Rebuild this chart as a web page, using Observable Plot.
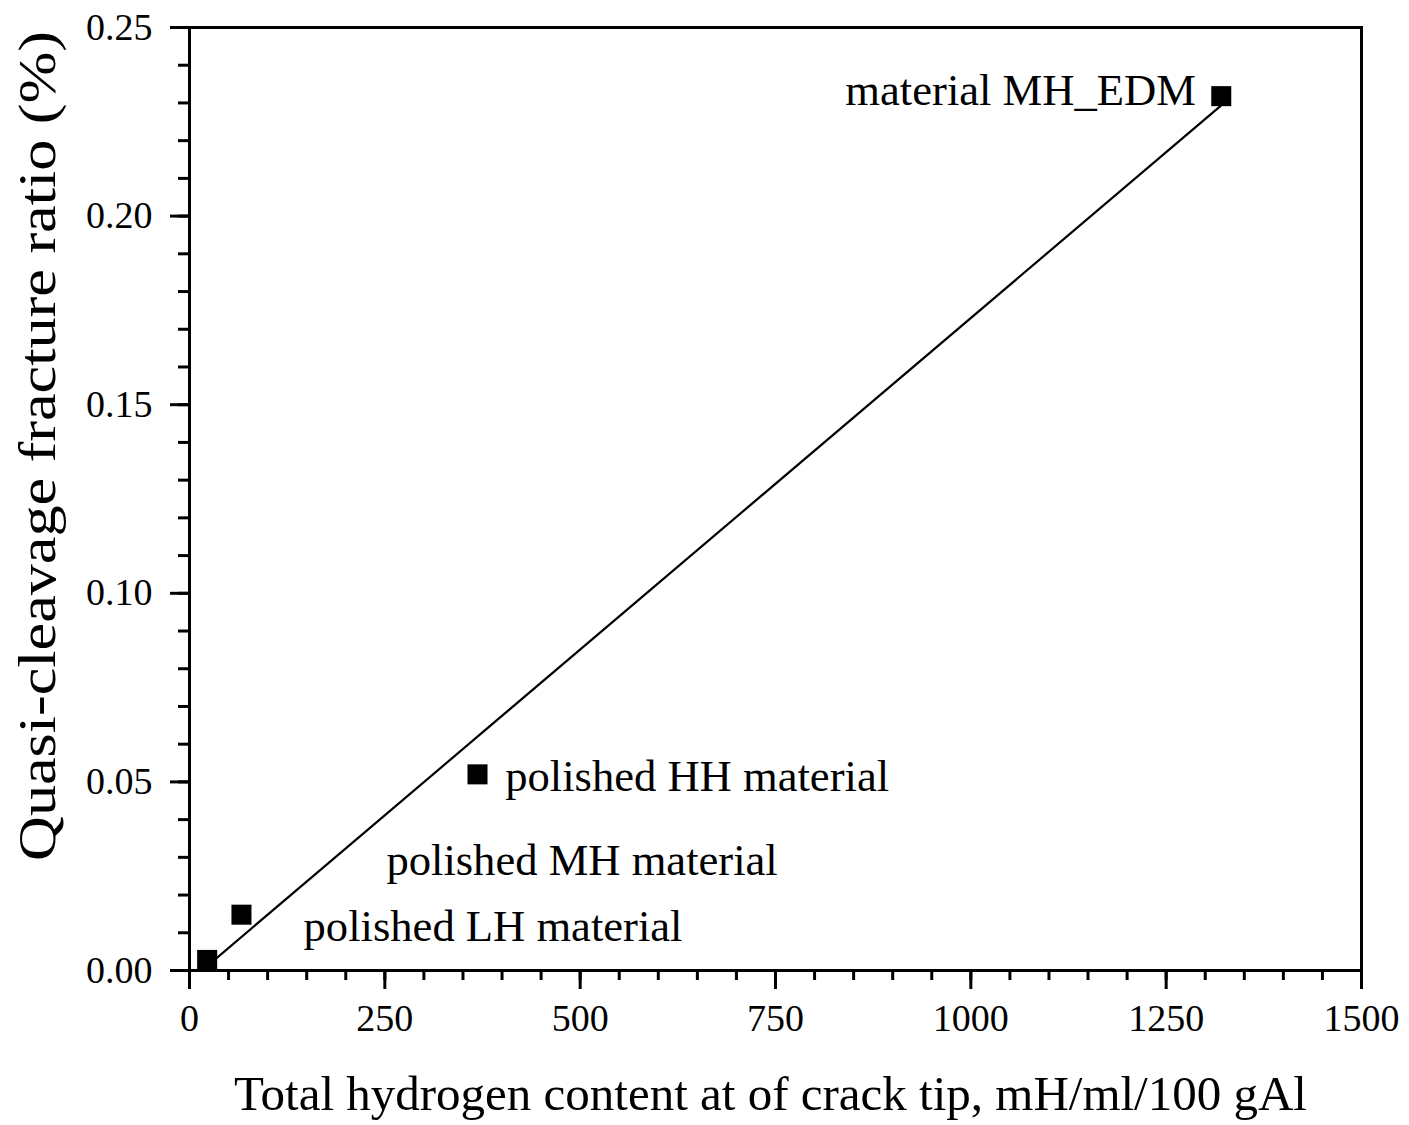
<!DOCTYPE html>
<html>
<head>
<meta charset="utf-8">
<script src="https://cdn.jsdelivr.net/npm/d3@7"></script>
<script src="https://cdn.jsdelivr.net/npm/@observablehq/plot@0.6"></script>
<style>
  html, body { margin: 0; padding: 0; background: #fff; }
  #chart svg { display: block; }
</style>
</head>
<body>
<div id="chart"></div>
<script>
// Measured samples: total hydrogen at the crack tip vs quasi-cleavage fracture ratio
const hydrogen = [22.6, 66.5, 368.6, 1320.5];
const qcRatio = [0.0028, 0.0148, 0.052, 0.2318];

// Annotation text and their anchor points in data units
const noteText = ["material MH_EDM", "polished HH material", "polished MH material", "polished LH material"];
const noteX = [1288, 404, 252, 146];
const noteY = [0.2333, 0.0515, 0.0292, 0.0117];
const noteAnchor = ["end", "start", "start", "start"];

// Axis ticks
const xMajor = [0, 250, 500, 750, 1000, 1250, 1500];
const xMinor = d3.range(0, 1501, 50);
const yMajor = [0, 0.05, 0.10, 0.15, 0.20, 0.25];
const yMinor = d3.range(0, 26).map(i => i / 100);

const xTitle = "Total hydrogen content at of crack tip, mH/ml/100 gAl";
const yTitle = "Quasi-cleavage fracture ratio (%)";

const points = hydrogen.map((x, i) => ({x, y: qcRatio[i]}));
const notes = noteText.map((t, i) => ({t, x: noteX[i], y: noteY[i], a: noteAnchor[i]}));

const font = "'Liberation Serif', 'Times New Roman', serif";

const chart = Plot.plot({
  width: 1409,
  height: 1125,
  marginLeft: 189,
  marginRight: 48,
  marginTop: 27,
  marginBottom: 155,
  style: {fontFamily: font, color: "#000", background: "#fff"},
  x: {domain: [0, 1500]},
  y: {domain: [0, 0.25]},
  marks: [
    // minor ticks
    Plot.axisX(xMinor, {tickSize: 10, strokeWidth: 3, tickFormat: () => "", label: null}),
    Plot.axisY(yMinor, {tickSize: 11, strokeWidth: 3, tickFormat: () => "", label: null}),
    // major ticks with labels
    Plot.axisX(xMajor, {tickSize: 19, strokeWidth: 3, tickPadding: 15, fontSize: 38,
      tickFormat: d => String(d), label: null}),
    Plot.axisY(yMajor, {tickSize: 19, strokeWidth: 3, tickPadding: 18, fontSize: 38,
      tickFormat: d3.format(".2f"), label: null}),
    Plot.frame({stroke: "#000", strokeWidth: 3}),
    Plot.linearRegressionY(points, {x: "x", y: "y", ci: 0, stroke: "#000", strokeWidth: 2.2}),
    Plot.dot(points, {x: "x", y: "y", symbol: "square", r: 11.3, fill: "#000", stroke: null}),
    Plot.text(notes.filter(d => d.a === "end"), {x: "x", y: "y", text: "t", textAnchor: "end",
      fontSize: 44.6, fill: "#000"}),
    Plot.text(notes.filter(d => d.a === "start"), {x: "x", y: "y", text: "t", textAnchor: "start",
      fontSize: 44.6, fill: "#000"}),
    // axis titles
    Plot.text([xTitle], {
      frameAnchor: "bottom", textAnchor: "middle", dy: 139, dx: -5, fontSize: 49, fill: "#000"}),
    Plot.text([yTitle], {
      frameAnchor: "left", textAnchor: "middle", dx: -151, dy: -53, rotate: -90,
      fontSize: 52, fill: "#000", className: "ytitle"})
  ]
});

// stretch the vertical title along its baseline to the full span
d3.select(chart).selectAll(".ytitle text")
  .attr("textLength", 830)
  .attr("lengthAdjust", "spacingAndGlyphs");

document.getElementById("chart").appendChild(chart);
</script>
</body>
</html>
